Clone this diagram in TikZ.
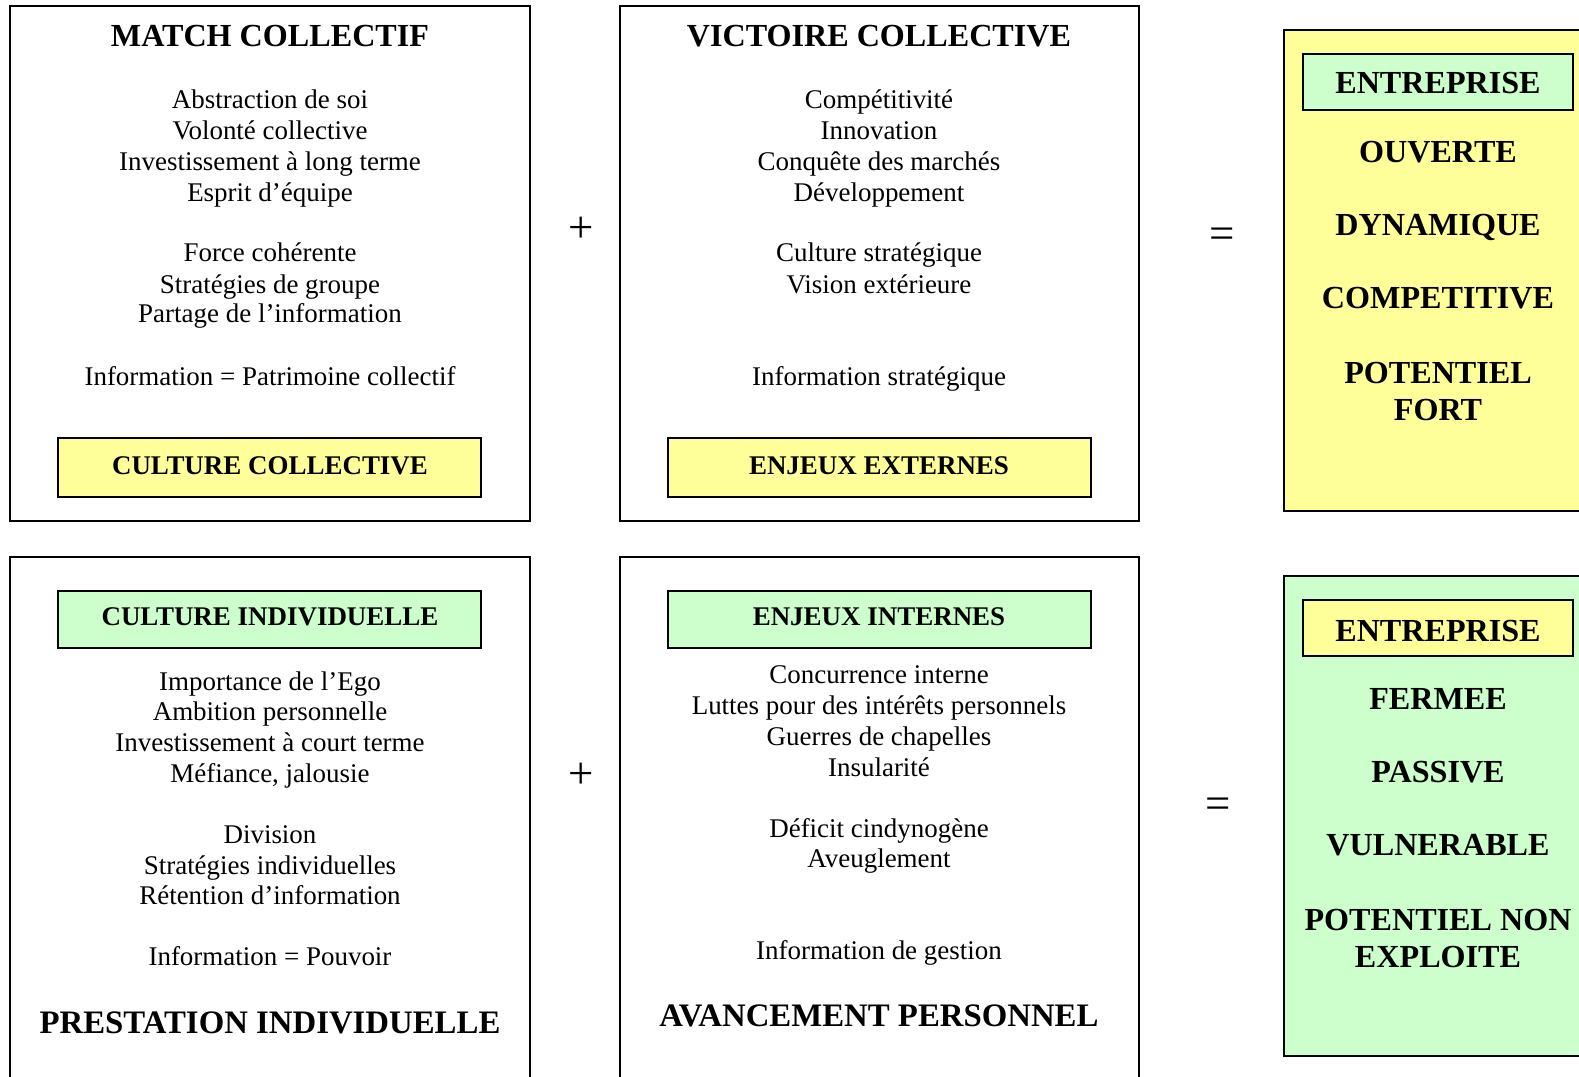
\documentclass[tikz,border=0pt]{standalone}
\usepackage{fontspec}
\setmainfont{Liberation Serif}
\definecolor{jaune}{HTML}{FFFF99}
\definecolor{vert}{HTML}{CCFFCC}
\begin{document}
\begin{tikzpicture}[x=0.445pt,y=-0.445pt,
  cadre/.style={draw=black,line width=0.9pt},
  txt/.style={anchor=base,inner sep=0pt,font=\fontsize{12}{13.8}\selectfont},
  titre/.style={anchor=base,inner sep=0pt,font=\fontsize{14.3}{16}\selectfont\bfseries},
  grandtitre/.style={anchor=base,inner sep=0pt,font=\fontsize{14.6}{16}\selectfont\bfseries},
  bandeau/.style={anchor=base,inner sep=0pt,font=\fontsize{12}{14}\selectfont\bfseries},
  signe/.style={anchor=base,inner sep=0pt,font=\fontsize{20}{20}\selectfont}]
\useasboundingbox (0,0) rectangle (1579,1077);
\clip (0,0) rectangle (1579,1077);

% ---- frames ----
\draw[cadre] (10,6) rectangle (530,521);
\draw[cadre] (620,6) rectangle (1139,521);
\draw[cadre,fill=jaune] (1284,30) rectangle (1620,511);
\draw[cadre,fill=vert] (1303,54) rectangle (1573,110);

\draw[cadre] (10,557) rectangle (530,1120);
\draw[cadre] (620,557) rectangle (1139,1120);
\draw[cadre,fill=vert] (1284,576) rectangle (1620,1056);
\draw[cadre,fill=jaune] (1303,600) rectangle (1573,656);

\draw[cadre,fill=jaune] (58,438) rectangle (481,497);
\draw[cadre,fill=jaune] (668,438) rectangle (1091,497);
\draw[cadre,fill=vert] (58,591) rectangle (481,648);
\draw[cadre,fill=vert] (668,591) rectangle (1091,648);

% ---- top left: collective match ----
\node[titre] (mc) at (270,47) {MATCH COLLECTIF};
\node[txt] (a1) at (270,109) {Abstraction de soi};
\node[txt] (a2) at (270,140) {Volonté collective};
\node[txt] (a3) at (270,171) {Investissement à long terme};
\node[txt] (a4) at (270,202) {Esprit d’équipe};
\node[txt] (a5) at (270,262) {Force cohérente};
\node[txt] (a6) at (270,293) {Stratégies de groupe};
\node[txt] (a7) at (270,323) {Partage de l’information};
\node[txt] (a8) at (270,385) {Information = Patrimoine collectif};
\node[bandeau] (cc) at (270,474) {CULTURE COLLECTIVE};

% ---- top middle: collective victory ----
\node[titre] (vc) at (879,47) {VICTOIRE COLLECTIVE};
\node[txt] (b1) at (879,109) {Compétitivité};
\node[txt] (b2) at (879,140) {Innovation};
\node[txt] (b3) at (879,171) {Conquête des marchés};
\node[txt] (b4) at (879,202) {Développement};
\node[txt] (b5) at (879,262) {Culture stratégique};
\node[txt] (b6) at (879,293) {Vision extérieure};
\node[txt] (b7) at (879,385) {Information stratégique};
\node[bandeau] (ee) at (879,474) {ENJEUX EXTERNES};

% ---- top right ----
\node[titre] (e1) at (1438,94) {ENTREPRISE};
\node[titre] (o1) at (1438,163) {OUVERTE};
\node[titre] (o2) at (1438,236) {DYNAMIQUE};
\node[titre] (o3) at (1438,309) {COMPETITIVE};
\node[titre] (o4) at (1438,383) {POTENTIEL};
\node[titre] (o5) at (1438,420) {FORT};

% ---- bottom left ----
\node[bandeau] (ci) at (270,625) {CULTURE INDIVIDUELLE};
\node[txt] (c1) at (270,690) {Importance de l’Ego};
\node[txt] (c2) at (270,720) {Ambition personnelle};
\node[txt] (c3) at (270,751) {Investissement à court terme};
\node[txt] (c4) at (270,782) {Méfiance, jalousie};
\node[txt] (c5) at (270,843) {Division};
\node[txt] (c6) at (270,874) {Stratégies individuelles};
\node[txt] (c7) at (270,904) {Rétention d’information};
\node[txt] (c8) at (270,965) {Information = Pouvoir};
\node[grandtitre] (pi) at (270,1033) {PRESTATION INDIVIDUELLE};

% ---- bottom middle ----
\node[bandeau] (ei) at (879,625) {ENJEUX INTERNES};
\node[txt] (d1) at (879,683) {Concurrence interne};
\node[txt] (d2) at (879,714) {Luttes pour des intérêts personnels};
\node[txt] (d3) at (879,745) {Guerres de chapelles};
\node[txt] (d4) at (879,776) {Insularité};
\node[txt] (d5) at (879,837) {Déficit cindynogène};
\node[txt] (d6) at (879,867) {Aveuglement};
\node[txt] (d7) at (879,959) {Information de gestion};
\node[grandtitre] (ap) at (879,1026) {AVANCEMENT PERSONNEL};

% ---- bottom right ----
\node[titre] (e2) at (1438,641) {ENTREPRISE};
\node[titre] (f1) at (1438,709) {FERMEE};
\node[titre] (f2) at (1438,782) {PASSIVE};
\node[titre] (f3) at (1438,855) {VULNERABLE};
\node[titre] (f4) at (1438,930) {POTENTIEL NON};
\node[titre] (f5) at (1438,967) {EXPLOITE};

% ---- operators ----
\node[signe] (p1) at (581,243) {+};
\node[signe] (p2) at (581,788) {+};
\node[signe] (q1) at (1222,249) {=};
\node[signe] (q2) at (1218,818) {=};
\end{tikzpicture}
\end{document}
